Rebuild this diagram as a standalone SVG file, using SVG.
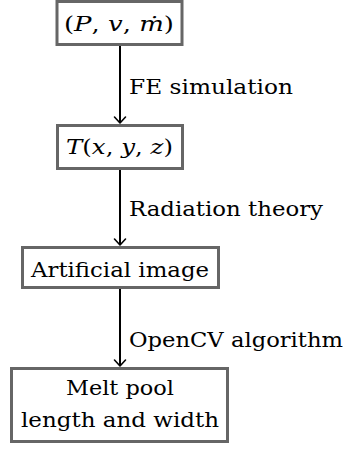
<svg xmlns="http://www.w3.org/2000/svg" width="354" height="451" viewBox="0 0 354 451">
<style>
.box{fill:#fff;stroke:#666;stroke-width:3}
.edge{stroke:#000;stroke-width:2;fill:none}
.head{stroke:#000;stroke-width:1.6;fill:none;stroke-linecap:round;stroke-linejoin:round}
.t{font-family:"DejaVu Serif","Liberation Serif",serif;font-size:21px;fill:#000}
.i{font-style:italic}
</style>
<rect width="354" height="451" fill="#fff"/>
<g id="connectors">
<line class="edge" x1="120" y1="46" x2="120" y2="123"/>
<polyline class="head" points="114.5,117 120,123 125.5,117"/>
<text class="t" x="129" y="94" textLength="164" lengthAdjust="spacingAndGlyphs">FE simulation</text>
<line class="edge" x1="120" y1="170" x2="120" y2="245"/>
<polyline class="head" points="114.5,239 120,245 125.5,239"/>
<text class="t" x="129" y="216" textLength="194" lengthAdjust="spacingAndGlyphs">Radiation theory</text>
<line class="edge" x1="120" y1="289" x2="120" y2="366"/>
<polyline class="head" points="114.5,360 120,366 125.5,360"/>
<text class="t" x="129" y="347" textLength="214" lengthAdjust="spacingAndGlyphs">OpenCV algorithm</text>
</g>
<g id="n1">
<rect class="box" x="57" y="1.5" width="125" height="43"/>
<text class="t" x="64" y="31" textLength="110" lengthAdjust="spacingAndGlyphs">(<tspan class="i">P</tspan>, <tspan class="i">v</tspan>, <tspan class="i">ṁ</tspan>)</text>
</g>
<g id="n2">
<rect class="box" x="57.5" y="125.5" width="125" height="43"/>
<text class="t" x="66" y="154" textLength="107" lengthAdjust="spacingAndGlyphs"><tspan class="i">T</tspan>(<tspan class="i">x</tspan>, <tspan class="i">y</tspan>, <tspan class="i">z</tspan>)</text>
</g>
<g id="n3">
<rect class="box" x="22.5" y="247.5" width="196" height="40"/>
<text class="t" x="31" y="277" textLength="178" lengthAdjust="spacingAndGlyphs">Artificial image</text>
</g>
<g id="n4">
<rect class="box" x="11.5" y="368.5" width="216" height="73"/>
<text class="t" x="66" y="395" textLength="108" lengthAdjust="spacingAndGlyphs">Melt pool</text>
<text class="t" x="21" y="427" textLength="198" lengthAdjust="spacingAndGlyphs">length and width</text>
</g>
</svg>
